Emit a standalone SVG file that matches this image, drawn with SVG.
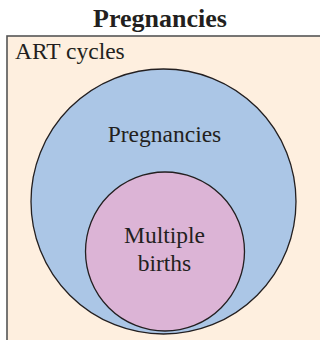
<svg xmlns="http://www.w3.org/2000/svg" width="320" height="340" viewBox="0 0 320 340">
<style>
text{font-family:"Liberation Serif","Times New Roman",serif;fill:#231f20}
.lbl{font-size:23.5px}
.c{stroke:#231f20;stroke-width:1.3}
</style>
<rect width="320" height="340" fill="#ffffff"/>
<text x="160" y="27" text-anchor="middle" style="font-size:26px;font-weight:bold">Pregnancies</text>
<g id="art">
<rect x="7" y="36" width="314" height="305" fill="#feefdf" stroke="#555" stroke-width="1.6"/>
<text class="lbl" x="15" y="59">ART cycles</text>
</g>
<g id="pregnancies">
<circle class="c" cx="163.5" cy="201.5" r="132.5" fill="#abc6e6"/>
<text class="lbl" x="164.5" y="142" text-anchor="middle">Pregnancies</text>
</g>
<g id="multiple">
<circle class="c" cx="165" cy="251.5" r="79.5" fill="#dcb4d6"/>
<text class="lbl" x="164.5" y="243" text-anchor="middle">Multiple</text>
<text class="lbl" x="164.5" y="271" text-anchor="middle">births</text>
</g>
<g id="connectors"/>
</svg>
